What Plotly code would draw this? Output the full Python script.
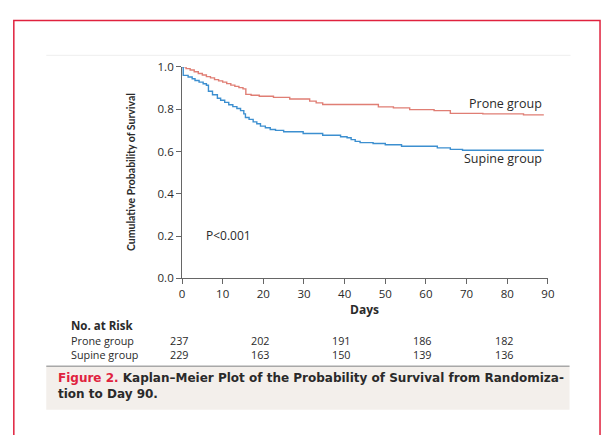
import plotly.graph_objects as go

W, H = 609, 435

# Kaplan-Meier step points (day, cumulative survival)
prone_days = [0, 1, 2, 3, 4, 5, 6, 7, 8, 9, 10, 11, 12, 13, 14, 15, 15.7, 17, 19, 22.5,
              26.5, 31.4, 33, 34.6, 48.3, 52, 56, 62, 66, 74, 84, 89]
prone_surv = [1.0, 0.992, 0.985, 0.977, 0.969, 0.962, 0.954, 0.948, 0.940, 0.934, 0.928,
              0.921, 0.914, 0.908, 0.902, 0.896, 0.870, 0.866, 0.861, 0.856,
              0.848, 0.838, 0.830, 0.822, 0.811, 0.806, 0.798, 0.793, 0.780, 0.778, 0.773, 0.773]

supine_days = [0, 0.3, 1.5, 2.5, 3.2, 4.2, 5.2, 6.0, 6.5, 7.5, 8.7, 9.5, 10.5, 11.5, 12.5,
               13.5, 14.4, 15.2, 15.6, 16.5, 17.5, 18.4, 19.3, 20.5, 21.7, 23, 25, 29.8,
               34.6, 39, 40.6, 41.6, 42.6, 43.8, 47, 50, 54, 62.8, 66, 69, 89]
supine_surv = [1.0, 0.960, 0.952, 0.944, 0.936, 0.928, 0.920, 0.913, 0.885, 0.868, 0.852,
               0.842, 0.832, 0.821, 0.812, 0.803, 0.793, 0.778, 0.761, 0.752, 0.740,
               0.731, 0.720, 0.712, 0.704, 0.700, 0.693, 0.685, 0.677, 0.670, 0.665,
               0.656, 0.648, 0.642, 0.638, 0.632, 0.625, 0.617, 0.610, 0.606, 0.606]

x_ticks = [0, 10, 20, 30, 40, 50, 60, 70, 80, 90]
y_ticks = [0.0, 0.2, 0.4, 0.6, 0.8, 1.0]
y_tick_labels = ["0.0", "0.2", "0.4", "0.6", "0.8", "1.0"]

group_names = ["Prone group", "Supine group"]
risk_days = [0, 20, 40, 60, 80]
risk_prone = [237, 202, 191, 186, 182]
risk_supine = [229, 163, 150, 139, 136]

RED = "#e07e74"
BLUE = "#3c8fd0"
TEXT = "#2a2a2a"
AXIS = "#666666"
FONT = "Open Sans, Lato, sans-serif"
CAPTION_FONT = "DejaVu Sans, Verdana, sans-serif"


def px(x):
    return x / W


def py(y):
    return 1 - y / H


def label(text, x, y, size, xanchor="center", family=FONT, **kw):
    return dict(text=text, xref="paper", yref="paper", x=px(x), y=py(y),
                xanchor=xanchor, yanchor="middle", showarrow=False,
                font=dict(family=family, size=size, color=TEXT), **kw)


fig = go.Figure()
fig.add_trace(go.Scatter(x=prone_days, y=prone_surv, mode="lines",
                         line=dict(color=RED, width=1.4, shape="hv"),
                         hoverinfo="skip", showlegend=False))
fig.add_trace(go.Scatter(x=supine_days, y=supine_surv, mode="lines",
                         line=dict(color=BLUE, width=1.4, shape="hv"),
                         hoverinfo="skip", showlegend=False))

shapes = [
    # outer red frame (runs past the bottom edge)
    dict(type="rect", xref="paper", yref="paper", x0=px(11), x1=px(607), y0=py(445), y1=py(13),
         line=dict(color="#e0223e", width=1.5), fillcolor="rgba(0,0,0,0)", layer="below"),
    # faint rule above the figure
    dict(type="line", xref="paper", yref="paper", x0=px(44), x1=px(577), y0=py(49), y1=py(49),
         line=dict(color="#eeeeee", width=1)),
    # caption panel
    dict(type="rect", xref="paper", yref="paper", x0=px(44), x1=px(576), y0=py(416), y1=py(371),
         line=dict(width=0), fillcolor="#f3efeb", layer="below"),
    dict(type="line", xref="paper", yref="paper", x0=px(44), x1=px(576), y0=py(371), y1=py(371),
         line=dict(color="#a8a8a8", width=1.5)),
]

ann = []
# axis titles and in-plot labels
ann.append(label("<b>Cumulative Probability of Survival</b>", 130, 170, 10.5,
                 family="Liberation Sans Narrow, Lato, sans-serif", textangle=-90))
ann.append(label("<b>Days</b>", 368, 312, 12))
ann.append(label("P<0.001", 204, 236, 12, xanchor="left"))
ann.append(label(group_names[0], 550, 99, 12.5, xanchor="right"))
ann.append(label(group_names[1], 550, 156, 12.5, xanchor="right"))

# number at risk table: one two-line block per column
ROWS_Y = 352
ann.append(label("<b>No. at Risk</b>", 67, 329, 11.5, xanchor="left"))
ann.append(label("<br>".join(group_names), 67, ROWS_Y, 10.8, xanchor="left", align="left"))
for d, p, s in zip(risk_days, risk_prone, risk_supine):
    ann.append(dict(text=f"{p}<br>{s}", xref="x", yref="paper", x=d, xshift=-3, y=py(ROWS_Y),
                    xanchor="center", yanchor="middle", align="center", showarrow=False,
                    font=dict(family=FONT, size=10.8, color=TEXT)))

# caption
ann.append(label("<b><span style='color:#e0223e'>Figure 2.</span> Kaplan\u2013Meier Plot of the "
                 "Probability of Survival from Randomiza-<br>tion to Day 90.</b>",
                 54, 392, 12, xanchor="left", family=CAPTION_FONT, align="left"))

fig.update_layout(
    width=W, height=H, margin=dict(l=0, r=0, t=0, b=0),
    paper_bgcolor="white", plot_bgcolor="white",
    shapes=shapes, annotations=ann,
    xaxis=dict(domain=[px(182), px(554)], range=[0, 90], tickvals=x_ticks,
               showgrid=False, zeroline=False, showline=True, linecolor=AXIS, linewidth=1,
               ticks="outside", ticklen=5, tickcolor=AXIS, tickwidth=1,
               tickfont=dict(family=FONT, size=11.5, color=TEXT), fixedrange=True),
    yaxis=dict(domain=[py(280), py(61)], range=[0, 1], tickvals=y_ticks, ticktext=y_tick_labels,
               showgrid=False, zeroline=False, showline=True, linecolor=AXIS, linewidth=1,
               ticks="outside", ticklen=5, tickcolor=AXIS, tickwidth=1,
               tickfont=dict(family=FONT, size=11.5, color=TEXT), fixedrange=True),
)

fig.write_html("out.html")
